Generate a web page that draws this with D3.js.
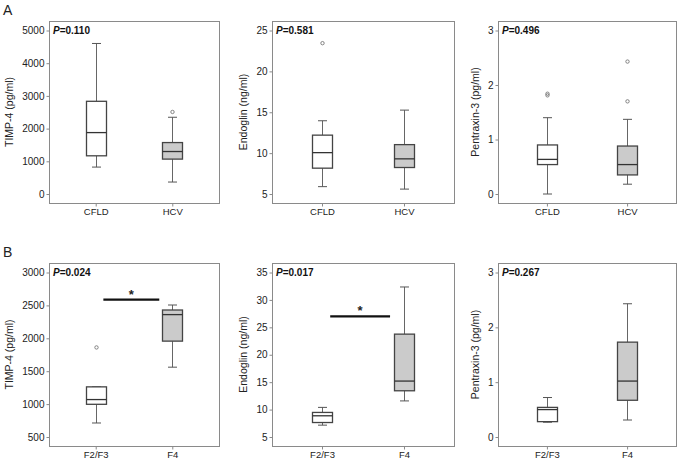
<!DOCTYPE html>
<html>
<head>
<meta charset="utf-8">
<script src="https://cdn.jsdelivr.net/npm/d3@7"></script>
<style>
  body { margin: 0; background: #fff; }
  svg { display: block; font-family: Arial, "Liberation Sans", sans-serif; }
</style>
</head>
<body>
<div id="container"></div>
<script>
// ---------------------------------------------------------------- data
const groupsA = ["CFLD", "HCV"];
const groupsB = ["F2/F3", "F4"];

// box stats: [whiskerLow, q1, median, q3, whiskerHigh]
const timp4A    = [[823, 1168, 1878, 2835, 4603], [366, 1067, 1299, 1573, 2347]];
const timp4AOut = [[], [2509]];
const endoA     = [[5.9, 8.16, 10.06, 12.2, 13.96], [5.6, 8.24, 9.3, 11.04, 15.26]];
const endoAOut  = [[23.45], []];
const ptx3A     = [[0.0, 0.54, 0.635, 0.90, 1.40], [0.18, 0.35, 0.54, 0.88, 1.37]];
const ptx3AOut  = [[1.84, 1.81], [2.43, 1.70]];

const timp4B    = [[713, 997, 1069, 1262, 1262], [1561, 1957, 2360, 2430, 2506]];
const timp4BOut = [[1861], []];
const endoB     = [[7.16, 7.64, 8.87, 9.48, 10.4], [11.58, 13.43, 15.2, 23.76, 32.36]];
const endoBOut  = [[], []];
const ptx3B     = [[0.27, 0.28, 0.50, 0.54, 0.72], [0.31, 0.67, 1.02, 1.73, 2.43]];
const ptx3BOut  = [[], []];

const pValues = ["0.110", "0.581", "0.496", "0.024", "0.017", "0.267"];
const sigLevels = [null, null, null, 2588, 27, null]; // significance bar value

const ticksTimp4A = [0, 1000, 2000, 3000, 4000, 5000];
const ticksEndoA  = [5, 10, 15, 20, 25];
const ticksPtx3   = [0, 1, 2, 3];
const ticksTimp4B = [500, 1000, 1500, 2000, 2500, 3000];
const ticksEndoB  = [5, 10, 15, 20, 25, 30, 35];

const titles = ["TIMP-4 (pg/ml)", "Endoglin (ng/ml)", "Pentraxin-3 (pg/ml)"];

// ---------------------------------------------------------------- layout
const width = 679, height = 460;
const cols = [[49, 219], [272, 454], [498, 676]];
const rows = [[21, 203], [263, 446]];

const panels = [
  {col: 0, row: 0, groups: groupsA, boxes: timp4A, out: timp4AOut, ticks: ticksTimp4A, title: titles[0]},
  {col: 1, row: 0, groups: groupsA, boxes: endoA,  out: endoAOut,  ticks: ticksEndoA,  title: titles[1]},
  {col: 2, row: 0, groups: groupsA, boxes: ptx3A,  out: ptx3AOut,  ticks: ticksPtx3,   title: titles[2]},
  {col: 0, row: 1, groups: groupsB, boxes: timp4B, out: timp4BOut, ticks: ticksTimp4B, title: titles[0]},
  {col: 1, row: 1, groups: groupsB, boxes: endoB,  out: endoBOut,  ticks: ticksEndoB,  title: titles[1]},
  {col: 2, row: 1, groups: groupsB, boxes: ptx3B,  out: ptx3BOut,  ticks: ticksPtx3,   title: titles[2]},
];

const svg = d3.select("#container").append("svg")
    .attr("width", width)
    .attr("height", height);

svg.append("text").attr("x", 3).attr("y", 15).attr("font-size", 14).attr("fill", "#222").text("A");
svg.append("text").attr("x", 3).attr("y", 257).attr("font-size", 14).attr("fill", "#222").text("B");

const boxW = 20, capW = 9;

panels.forEach((p, i) => {
  const [x0, x1] = cols[p.col];
  const [y0, y1] = rows[p.row];

  const x = d3.scalePoint().domain(p.groups).range([x0, x1]).padding(0.61);
  const y = d3.scaleLinear()
      .domain(d3.extent(p.ticks))
      .range([y1 - 9, y0 + 9.5]);

  const g = svg.append("g");

  // frame
  g.append("rect")
      .attr("x", x0 + 0.5).attr("y", y0 + 0.5)
      .attr("width", x1 - x0).attr("height", y1 - y0)
      .attr("fill", "none").attr("stroke", "#8a8a8a");

  // y axis
  const yAxis = g.append("g")
      .attr("transform", `translate(${x0 + 0.5},0)`)
      .call(d3.axisLeft(y).tickValues(p.ticks).tickSize(3).tickPadding(2).tickFormat(d3.format("d")));
  yAxis.select(".domain").remove();
  yAxis.selectAll(".tick line").attr("stroke", "#8a8a8a");
  yAxis.selectAll(".tick text").attr("font-size", 10).attr("fill", "#222")
      .attr("font-family", "Arial, 'Liberation Sans', sans-serif");

  // x axis
  const xAxis = g.append("g")
      .attr("transform", `translate(0,${y1 + 0.5})`)
      .call(d3.axisBottom(x).tickSize(3).tickPadding(2));
  xAxis.select(".domain").remove();
  xAxis.selectAll(".tick line").attr("stroke", "#8a8a8a");
  xAxis.selectAll(".tick text").attr("font-size", 9.5).attr("fill", "#222")
      .attr("font-family", "Arial, 'Liberation Sans', sans-serif");

  // axis title, placed left of the widest tick label
  const labW = d3.max(yAxis.selectAll(".tick text").nodes(), n => n.getBBox().width);
  const tx = x0 - 4 - labW - 13;
  g.append("text")
      .attr("transform", `translate(${tx},${(y0 + y1) / 2}) rotate(-90)`)
      .attr("text-anchor", "middle")
      .attr("dy", "0.35em")
      .attr("font-size", 10.5)
      .attr("fill", "#222")
      .text(p.title);

  // p value
  const pt = g.append("text")
      .attr("x", x0 + 4).attr("y", y0 + 13)
      .attr("font-size", 10).attr("font-weight", "bold").attr("fill", "#111");
  pt.append("tspan").attr("font-style", "italic").text("P");
  pt.append("tspan").text("=" + pValues[i]);

  // boxes
  p.groups.forEach((grp, j) => {
    const [lo, q1, med, q3, hi] = p.boxes[j];
    const cx = Math.round(x(grp)) + 0.5;
    const fill = j === 0 ? "#ffffff" : "#cbcbcb";
    const bg = g.append("g");

    bg.append("line").attr("x1", cx).attr("x2", cx).attr("y1", y(q3)).attr("y2", y(hi))
        .attr("stroke", "#666");
    bg.append("line").attr("x1", cx).attr("x2", cx).attr("y1", y(q1)).attr("y2", y(lo))
        .attr("stroke", "#666");
    [lo, hi].forEach(v => {
      bg.append("line").attr("x1", cx - capW / 2).attr("x2", cx + capW / 2)
          .attr("y1", y(v)).attr("y2", y(v)).attr("stroke", "#555");
    });
    bg.append("rect")
        .attr("x", cx - boxW / 2).attr("y", y(q3))
        .attr("width", boxW).attr("height", y(q1) - y(q3))
        .attr("fill", fill).attr("stroke", "#444").attr("stroke-width", 1.3);
    bg.append("line").attr("x1", cx - boxW / 2).attr("x2", cx + boxW / 2)
        .attr("y1", y(med)).attr("y2", y(med))
        .attr("stroke", "#333").attr("stroke-width", 1.3);

    bg.selectAll("circle").data(p.out[j]).join("circle")
        .attr("cx", cx).attr("cy", d => y(d)).attr("r", 1.7)
        .attr("fill", "none").attr("stroke", "#777").attr("stroke-width", 0.9);
  });

  // significance bar
  if (sigLevels[i] != null) {
    const xa = x(p.groups[0]), xb = x(p.groups[1]);
    const sx0 = xa + 0.1 * (xb - xa), sx1 = xb - 0.17 * (xb - xa);
    const sy = y(sigLevels[i]);
    g.append("line").attr("x1", sx0).attr("x2", sx1).attr("y1", sy).attr("y2", sy)
        .attr("stroke", "#111").attr("stroke-width", 2.2);
    g.append("text").attr("x", (sx0 + sx1) / 2).attr("y", sy - 1)
        .attr("text-anchor", "middle").attr("font-size", 13).attr("font-weight", "bold")
        .attr("fill", "#222").text("*");
  }
});
</script>
</body>
</html>
